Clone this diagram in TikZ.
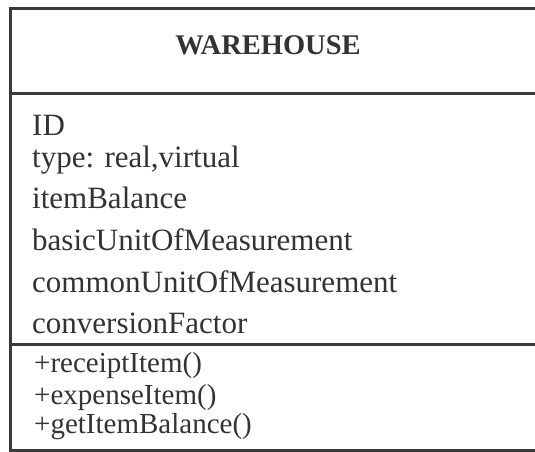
\documentclass[tikz,border=0pt]{standalone}
\usepackage{fontspec}
\setmainfont{Liberation Serif}
\usepackage{xcolor}
\definecolor{ink}{HTML}{333333}
\definecolor{frame}{HTML}{3A3A3A}

\begin{document}
\begin{tikzpicture}[x=1pt, y=-1pt]
  \def\L{10.5}    % left rule of the class box
  \def\R{535}     % box runs off the right edge
  \def\T{8.5}     % top rule
  \def\B{450.5}   % bottom rule
  \useasboundingbox (0,0) rectangle (535,452);
  \tikzset{
    rule/.style={draw=frame, line width=3pt},
    classname/.style={anchor=base, inner sep=0pt, text=ink,
                      font=\fontsize{28.5}{34}\selectfont\bfseries},
    member/.style={anchor=base west, inner sep=0pt, text=ink,
                   font=\fontsize{31}{36}\selectfont},
    method/.style={member, font=\fontsize{29}{34}\selectfont}}

  % ========== the frame and the two compartment rules ==========
  \draw[rule] (\R,\T) -- (\L,\T) -- (\L,452);
  \draw[rule] (\L,93) -- (\R,93);
  \draw[rule] (\L,344) -- (\R,344);
  \draw[rule] (\L,\B) -- (\R,\B);

  % ========== name ==========
  \node[classname] (cname) at (268,55) {WAREHOUSE};

  % ========== attributes ==========
  \node[member] (aid)   at (32,135) {ID};
  \node[member] (atype) at (32,167) {type: real,virtual};
  \node[member] (abal)  at (32,208) {itemBalance};
  \node[member] (abase) at (32,250) {basicUnitOfMeasurement};
  \node[member] (acomm) at (32,292) {commonUnitOfMeasurement};
  \node[member] (aconv) at (32,333) {conversionFactor};

  % ========== operations: set tight, as in the reference ==========
  \node[method] (mrec) at (34,372) {+receiptItem()};
  \node[method] (mexp) at (34,404) {+expenseItem()};
  \node[method] (mget) at (34,433) {+getItemBalance()};
\end{tikzpicture}
\end{document}
